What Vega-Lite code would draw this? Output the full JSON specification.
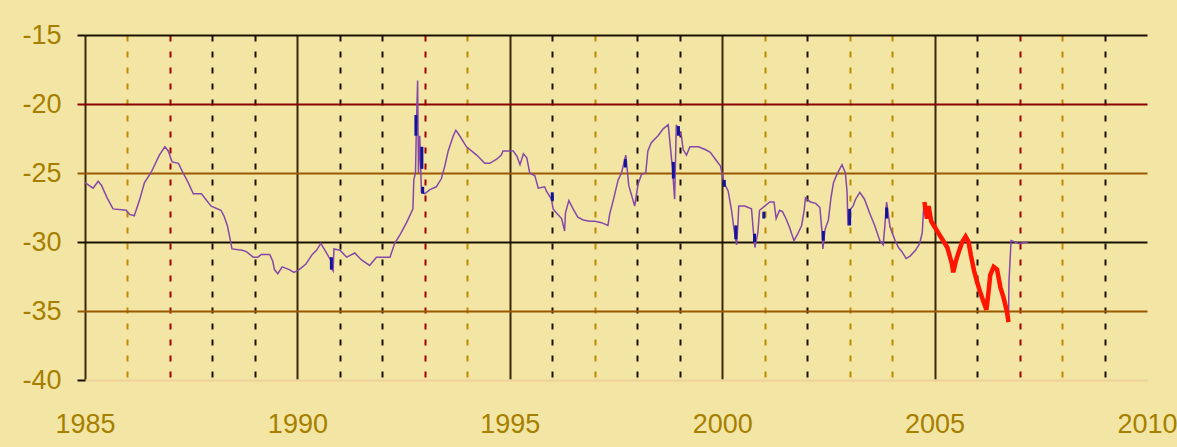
{
  "$schema": "https://vega.github.io/schema/vega-lite/v6.json",
  "width": 1062,
  "height": 345,
  "autosize": {"type": "none"},
  "padding": {"left": 85, "top": 35, "right": 30, "bottom": 67},
  "background": "#f3e6a5",
  "config": {"view": {"stroke": null}},
  "datasets": {
    "series": [
      {"t": 1985.00, "v": -25.7, "seg": "a"},
      {"t": 1985.19, "v": -26.1, "seg": "a"},
      {"t": 1985.31, "v": -25.6, "seg": "a"},
      {"t": 1985.39, "v": -25.9, "seg": "a"},
      {"t": 1985.52, "v": -26.8, "seg": "a"},
      {"t": 1985.66, "v": -27.6, "seg": "a"},
      {"t": 1985.97, "v": -27.7, "seg": "a"},
      {"t": 1986.05, "v": -28.0, "seg": "a"},
      {"t": 1986.16, "v": -28.1, "seg": "a"},
      {"t": 1986.28, "v": -27.0, "seg": "a"},
      {"t": 1986.40, "v": -25.7, "seg": "a"},
      {"t": 1986.55, "v": -25.0, "seg": "a"},
      {"t": 1986.75, "v": -23.7, "seg": "a"},
      {"t": 1986.88, "v": -23.1, "seg": "a"},
      {"t": 1986.96, "v": -23.4, "seg": "a"},
      {"t": 1987.05, "v": -24.2, "seg": "a"},
      {"t": 1987.20, "v": -24.3, "seg": "a"},
      {"t": 1987.31, "v": -25.0, "seg": "a"},
      {"t": 1987.43, "v": -25.7, "seg": "a"},
      {"t": 1987.55, "v": -26.5, "seg": "a"},
      {"t": 1987.74, "v": -26.5, "seg": "a"},
      {"t": 1987.97, "v": -27.4, "seg": "a"},
      {"t": 1988.20, "v": -27.7, "seg": "a"},
      {"t": 1988.27, "v": -28.1, "seg": "a"},
      {"t": 1988.35, "v": -28.8, "seg": "a"},
      {"t": 1988.41, "v": -29.7, "seg": "a"},
      {"t": 1988.46, "v": -30.5, "seg": "a"},
      {"t": 1988.70, "v": -30.6, "seg": "a"},
      {"t": 1988.80, "v": -30.7, "seg": "a"},
      {"t": 1988.96, "v": -31.1, "seg": "a"},
      {"t": 1989.07, "v": -31.1, "seg": "a"},
      {"t": 1989.15, "v": -30.9, "seg": "a"},
      {"t": 1989.35, "v": -30.9, "seg": "a"},
      {"t": 1989.42, "v": -31.4, "seg": "a"},
      {"t": 1989.46, "v": -32.0, "seg": "a"},
      {"t": 1989.54, "v": -32.3, "seg": "a"},
      {"t": 1989.64, "v": -31.8, "seg": "a"},
      {"t": 1989.81, "v": -32.0, "seg": "a"},
      {"t": 1989.92, "v": -32.2, "seg": "a"},
      {"t": 1990.04, "v": -32.0, "seg": "a"},
      {"t": 1990.20, "v": -31.6, "seg": "a"},
      {"t": 1990.35, "v": -30.9, "seg": "a"},
      {"t": 1990.45, "v": -30.6, "seg": "a"},
      {"t": 1990.55, "v": -30.1, "seg": "a"},
      {"t": 1990.65, "v": -30.6, "seg": "a"},
      {"t": 1990.78, "v": -31.3, "seg": "a"},
      {"t": 1990.82, "v": -32.0, "seg": "a"},
      {"t": 1990.84, "v": -32.1, "seg": "a"},
      {"t": 1990.86, "v": -30.5, "seg": "a"},
      {"t": 1991.00, "v": -30.6, "seg": "a"},
      {"t": 1991.16, "v": -31.1, "seg": "a"},
      {"t": 1991.35, "v": -30.8, "seg": "a"},
      {"t": 1991.51, "v": -31.3, "seg": "a"},
      {"t": 1991.70, "v": -31.7, "seg": "a"},
      {"t": 1991.86, "v": -31.1, "seg": "a"},
      {"t": 1992.18, "v": -31.1, "seg": "a"},
      {"t": 1992.29, "v": -30.1, "seg": "a"},
      {"t": 1992.41, "v": -29.5, "seg": "a"},
      {"t": 1992.57, "v": -28.6, "seg": "a"},
      {"t": 1992.72, "v": -27.6, "seg": "a"},
      {"t": 1992.74, "v": -25.5, "seg": "a"},
      {"t": 1992.78, "v": -25.0, "seg": "a"},
      {"t": 1992.80, "v": -21.8, "seg": "a"},
      {"t": 1992.83, "v": -18.3, "seg": "a"},
      {"t": 1992.85, "v": -25.0, "seg": "a"},
      {"t": 1992.88, "v": -22.3, "seg": "a"},
      {"t": 1992.92, "v": -26.4, "seg": "a"},
      {"t": 1993.00, "v": -26.5, "seg": "a"},
      {"t": 1993.12, "v": -26.2, "seg": "a"},
      {"t": 1993.27, "v": -26.0, "seg": "a"},
      {"t": 1993.39, "v": -25.4, "seg": "a"},
      {"t": 1993.47, "v": -24.5, "seg": "a"},
      {"t": 1993.55, "v": -23.4, "seg": "a"},
      {"t": 1993.67, "v": -22.3, "seg": "a"},
      {"t": 1993.73, "v": -21.9, "seg": "a"},
      {"t": 1993.82, "v": -22.3, "seg": "a"},
      {"t": 1993.98, "v": -23.1, "seg": "a"},
      {"t": 1994.22, "v": -23.7, "seg": "a"},
      {"t": 1994.41, "v": -24.3, "seg": "a"},
      {"t": 1994.53, "v": -24.3, "seg": "a"},
      {"t": 1994.69, "v": -24.0, "seg": "a"},
      {"t": 1994.80, "v": -23.7, "seg": "a"},
      {"t": 1994.84, "v": -23.4, "seg": "a"},
      {"t": 1995.08, "v": -23.4, "seg": "a"},
      {"t": 1995.17, "v": -23.8, "seg": "a"},
      {"t": 1995.24, "v": -24.4, "seg": "a"},
      {"t": 1995.32, "v": -23.6, "seg": "a"},
      {"t": 1995.40, "v": -23.9, "seg": "a"},
      {"t": 1995.47, "v": -25.0, "seg": "a"},
      {"t": 1995.59, "v": -25.2, "seg": "a"},
      {"t": 1995.67, "v": -26.1, "seg": "a"},
      {"t": 1995.82, "v": -26.0, "seg": "a"},
      {"t": 1995.86, "v": -26.3, "seg": "a"},
      {"t": 1995.94, "v": -26.7, "seg": "a"},
      {"t": 1995.98, "v": -26.9, "seg": "a"},
      {"t": 1996.02, "v": -27.6, "seg": "a"},
      {"t": 1996.10, "v": -27.9, "seg": "a"},
      {"t": 1996.22, "v": -28.3, "seg": "a"},
      {"t": 1996.29, "v": -29.2, "seg": "a"},
      {"t": 1996.31, "v": -27.9, "seg": "a"},
      {"t": 1996.39, "v": -27.0, "seg": "a"},
      {"t": 1996.49, "v": -27.6, "seg": "a"},
      {"t": 1996.60, "v": -28.2, "seg": "a"},
      {"t": 1996.73, "v": -28.4, "seg": "a"},
      {"t": 1996.88, "v": -28.5, "seg": "a"},
      {"t": 1997.00, "v": -28.5, "seg": "a"},
      {"t": 1997.16, "v": -28.6, "seg": "a"},
      {"t": 1997.31, "v": -28.8, "seg": "a"},
      {"t": 1997.35, "v": -28.0, "seg": "a"},
      {"t": 1997.45, "v": -26.8, "seg": "a"},
      {"t": 1997.55, "v": -25.5, "seg": "a"},
      {"t": 1997.63, "v": -25.0, "seg": "a"},
      {"t": 1997.73, "v": -23.7, "seg": "a"},
      {"t": 1997.80, "v": -25.9, "seg": "a"},
      {"t": 1997.94, "v": -27.4, "seg": "a"},
      {"t": 1998.02, "v": -25.8, "seg": "a"},
      {"t": 1998.10, "v": -25.1, "seg": "a"},
      {"t": 1998.20, "v": -25.0, "seg": "a"},
      {"t": 1998.25, "v": -23.4, "seg": "a"},
      {"t": 1998.33, "v": -22.8, "seg": "a"},
      {"t": 1998.49, "v": -22.3, "seg": "a"},
      {"t": 1998.61, "v": -21.8, "seg": "a"},
      {"t": 1998.73, "v": -21.5, "seg": "a"},
      {"t": 1998.77, "v": -22.8, "seg": "a"},
      {"t": 1998.83, "v": -24.7, "seg": "a"},
      {"t": 1998.88, "v": -26.9, "seg": "a"},
      {"t": 1998.92, "v": -21.5, "seg": "a"},
      {"t": 1998.96, "v": -21.8, "seg": "a"},
      {"t": 1999.04, "v": -22.3, "seg": "a"},
      {"t": 1999.08, "v": -23.3, "seg": "a"},
      {"t": 1999.16, "v": -23.7, "seg": "a"},
      {"t": 1999.24, "v": -23.1, "seg": "a"},
      {"t": 1999.44, "v": -23.1, "seg": "a"},
      {"t": 1999.60, "v": -23.3, "seg": "a"},
      {"t": 1999.72, "v": -23.5, "seg": "a"},
      {"t": 1999.84, "v": -24.0, "seg": "a"},
      {"t": 1999.96, "v": -24.5, "seg": "a"},
      {"t": 2000.04, "v": -25.7, "seg": "a"},
      {"t": 2000.14, "v": -26.3, "seg": "a"},
      {"t": 2000.22, "v": -27.7, "seg": "a"},
      {"t": 2000.27, "v": -28.9, "seg": "a"},
      {"t": 2000.34, "v": -30.2, "seg": "a"},
      {"t": 2000.37, "v": -28.7, "seg": "a"},
      {"t": 2000.39, "v": -27.4, "seg": "a"},
      {"t": 2000.53, "v": -27.4, "seg": "a"},
      {"t": 2000.69, "v": -27.6, "seg": "a"},
      {"t": 2000.73, "v": -29.1, "seg": "a"},
      {"t": 2000.77, "v": -30.4, "seg": "a"},
      {"t": 2000.84, "v": -29.3, "seg": "a"},
      {"t": 2000.88, "v": -27.7, "seg": "a"},
      {"t": 2001.00, "v": -27.4, "seg": "a"},
      {"t": 2001.12, "v": -27.1, "seg": "a"},
      {"t": 2001.22, "v": -27.1, "seg": "a"},
      {"t": 2001.27, "v": -28.3, "seg": "a"},
      {"t": 2001.35, "v": -27.7, "seg": "a"},
      {"t": 2001.42, "v": -27.8, "seg": "a"},
      {"t": 2001.50, "v": -28.3, "seg": "a"},
      {"t": 2001.58, "v": -28.9, "seg": "a"},
      {"t": 2001.69, "v": -29.9, "seg": "a"},
      {"t": 2001.78, "v": -29.4, "seg": "a"},
      {"t": 2001.87, "v": -28.8, "seg": "a"},
      {"t": 2001.93, "v": -27.7, "seg": "a"},
      {"t": 2001.96, "v": -26.8, "seg": "a"},
      {"t": 2002.08, "v": -27.1, "seg": "a"},
      {"t": 2002.20, "v": -27.2, "seg": "a"},
      {"t": 2002.30, "v": -27.5, "seg": "a"},
      {"t": 2002.35, "v": -29.3, "seg": "a"},
      {"t": 2002.37, "v": -30.5, "seg": "a"},
      {"t": 2002.42, "v": -29.1, "seg": "a"},
      {"t": 2002.50, "v": -28.4, "seg": "a"},
      {"t": 2002.56, "v": -26.8, "seg": "a"},
      {"t": 2002.62, "v": -25.7, "seg": "a"},
      {"t": 2002.70, "v": -25.1, "seg": "a"},
      {"t": 2002.82, "v": -24.4, "seg": "a"},
      {"t": 2002.90, "v": -25.0, "seg": "a"},
      {"t": 2002.94, "v": -26.4, "seg": "a"},
      {"t": 2002.96, "v": -28.8, "seg": "a"},
      {"t": 2003.00, "v": -27.7, "seg": "a"},
      {"t": 2003.08, "v": -27.4, "seg": "a"},
      {"t": 2003.14, "v": -26.9, "seg": "a"},
      {"t": 2003.24, "v": -26.4, "seg": "a"},
      {"t": 2003.35, "v": -26.9, "seg": "a"},
      {"t": 2003.47, "v": -27.9, "seg": "a"},
      {"t": 2003.59, "v": -28.8, "seg": "a"},
      {"t": 2003.71, "v": -29.9, "seg": "a"},
      {"t": 2003.79, "v": -30.2, "seg": "a"},
      {"t": 2003.83, "v": -28.8, "seg": "a"},
      {"t": 2003.87, "v": -27.1, "seg": "a"},
      {"t": 2003.95, "v": -28.9, "seg": "a"},
      {"t": 2004.07, "v": -29.9, "seg": "a"},
      {"t": 2004.15, "v": -30.4, "seg": "a"},
      {"t": 2004.23, "v": -30.7, "seg": "a"},
      {"t": 2004.33, "v": -31.2, "seg": "a"},
      {"t": 2004.43, "v": -31.0, "seg": "a"},
      {"t": 2004.55, "v": -30.6, "seg": "a"},
      {"t": 2004.65, "v": -30.1, "seg": "a"},
      {"t": 2004.71, "v": -29.3, "seg": "a"},
      {"t": 2004.75, "v": -27.1, "seg": "a"},
      {"t": 2004.76, "v": -27.1, "seg": "r"},
      {"t": 2004.82, "v": -28.3, "seg": "r"},
      {"t": 2004.86, "v": -27.4, "seg": "r"},
      {"t": 2004.92, "v": -28.5, "seg": "r"},
      {"t": 2005.06, "v": -29.2, "seg": "r"},
      {"t": 2005.18, "v": -29.8, "seg": "r"},
      {"t": 2005.30, "v": -30.4, "seg": "r"},
      {"t": 2005.40, "v": -31.5, "seg": "r"},
      {"t": 2005.44, "v": -32.2, "seg": "r"},
      {"t": 2005.50, "v": -31.4, "seg": "r"},
      {"t": 2005.57, "v": -30.7, "seg": "r"},
      {"t": 2005.65, "v": -30.0, "seg": "r"},
      {"t": 2005.73, "v": -29.6, "seg": "r"},
      {"t": 2005.80, "v": -30.0, "seg": "r"},
      {"t": 2005.85, "v": -30.9, "seg": "r"},
      {"t": 2005.93, "v": -32.1, "seg": "r"},
      {"t": 2006.00, "v": -32.9, "seg": "r"},
      {"t": 2006.08, "v": -33.7, "seg": "r"},
      {"t": 2006.16, "v": -34.4, "seg": "r"},
      {"t": 2006.22, "v": -34.9, "seg": "r"},
      {"t": 2006.27, "v": -33.6, "seg": "r"},
      {"t": 2006.31, "v": -32.4, "seg": "r"},
      {"t": 2006.39, "v": -31.8, "seg": "r"},
      {"t": 2006.47, "v": -32.0, "seg": "r"},
      {"t": 2006.55, "v": -33.3, "seg": "r"},
      {"t": 2006.62, "v": -34.0, "seg": "r"},
      {"t": 2006.70, "v": -35.0, "seg": "r"},
      {"t": 2006.74, "v": -35.8, "seg": "r"},
      {"t": 2006.74, "v": -35.8, "seg": "b"},
      {"t": 2006.75, "v": -32.9, "seg": "b"},
      {"t": 2006.80, "v": -29.9, "seg": "b"},
      {"t": 2006.97, "v": -30.1, "seg": "b"},
      {"t": 2007.20, "v": -30.0, "seg": "b"}
    ],
    "bars": [
      {"t": 1990.80, "lo": -32.0, "hi": -31.1},
      {"t": 1992.79, "lo": -22.3, "hi": -20.8},
      {"t": 1992.93, "lo": -24.7, "hi": -23.1},
      {"t": 1992.95, "lo": -26.5, "hi": -26.0},
      {"t": 1996.00, "lo": -27.0, "hi": -26.4},
      {"t": 1997.72, "lo": -24.6, "hi": -24.0},
      {"t": 1998.85, "lo": -25.4, "hi": -24.2},
      {"t": 1998.97, "lo": -22.3, "hi": -21.6},
      {"t": 2000.05, "lo": -26.0, "hi": -25.5},
      {"t": 2000.32, "lo": -29.8, "hi": -28.8},
      {"t": 2000.76, "lo": -30.0, "hi": -29.4},
      {"t": 2000.98, "lo": -28.3, "hi": -27.8},
      {"t": 2002.38, "lo": -29.9, "hi": -29.2},
      {"t": 2003.00, "lo": -28.8, "hi": -27.6},
      {"t": 2003.87, "lo": -28.3, "hi": -27.5}
    ]
  },
  "layer": [
    {
      "data": {"name": "series"},
      "transform": [{"filter": "datum.seg !== 'r'"}],
      "mark": {"type": "line", "color": "#8548a8", "strokeWidth": 1.5},
      "encoding": {
        "x": {
          "field": "t", "type": "quantitative",
          "scale": {"domain": [1985, 2010], "nice": false, "zero": false},
          "axis": {
            "title": null,
            "values": [1985,1986,1987,1988,1989,1990,1991,1992,1993,1994,1995,1996,1997,1998,1999,2000,2001,2002,2003,2004,2005,2006,2007,2008,2009,2010],
            "labelExpr": "datum.value % 5 === 0 ? '' + datum.value : ''",
            "labelFont": "Liberation Sans", "labelFontSize": 27, "labelColor": "#a67f00",
            "labelPadding": 31, "labelFlush": false, "labelOverlap": false,
            "ticks": false,
            "domain": true, "domainColor": "#f0d49c", "domainWidth": 2,
            "grid": true, "gridWidth": 2,
            "gridColor": {
              "condition": [
                {"test": "datum.value === 2010", "value": "#f3e6a5"},
                {"test": "datum.value % 5 === 0", "value": "#3a2600"},
                {"test": "indexof([1987,1993,2007], datum.value) >= 0", "value": "#a00000"},
                {"test": "indexof([1986,1994,1997,2001,2003,2004,2008], datum.value) >= 0", "value": "#c08a00"}
              ],
              "value": "#1a1000"
            },
            "gridDash": {"condition": {"test": "datum.value % 5 === 0", "value": []}, "value": [6, 10]}
          }
        },
        "y": {
          "field": "v", "type": "quantitative",
          "scale": {"domain": [-40, -15], "nice": false, "zero": false},
          "axis": {
            "title": null,
            "values": [-40, -35, -30, -25, -20, -15],
            "labelExpr": "'' + datum.value",
            "labelFont": "Liberation Sans", "labelFontSize": 27, "labelColor": "#a67f00",
            "labelPadding": 16,
            "domain": false,
            "ticks": true, "tickSize": 8, "tickWidth": 2,
            "tickColor": {
              "condition": [
                {"test": "datum.value === -20", "value": "#8b0000"},
                {"test": "datum.value === -25 || datum.value === -35", "value": "#9a5800"}
              ],
              "value": "#1a1000"
            },
            "grid": true, "gridWidth": 2,
            "gridColor": {
              "condition": [
                {"test": "datum.value === -40", "value": "#f0d49c"},
                {"test": "datum.value === -20", "value": "#8b0000"},
                {"test": "datum.value === -25 || datum.value === -35", "value": "#9a5800"}
              ],
              "value": "#1a1000"
            }
          }
        },
        "detail": {"field": "seg", "type": "nominal"}
      }
    },
    {
      "data": {"name": "bars"},
      "mark": {"type": "rule", "color": "#12129a", "strokeWidth": 3},
      "encoding": {
        "x": {"field": "t", "type": "quantitative"},
        "y": {"field": "lo", "type": "quantitative"},
        "y2": {"field": "hi"}
      }
    },
    {
      "data": {"name": "series"},
      "transform": [{"filter": "datum.seg === 'r'"}],
      "mark": {"type": "line", "color": "#ff1500", "strokeWidth": 4.5},
      "encoding": {
        "x": {"field": "t", "type": "quantitative"},
        "y": {"field": "v", "type": "quantitative"}
      }
    }
  ]
}
